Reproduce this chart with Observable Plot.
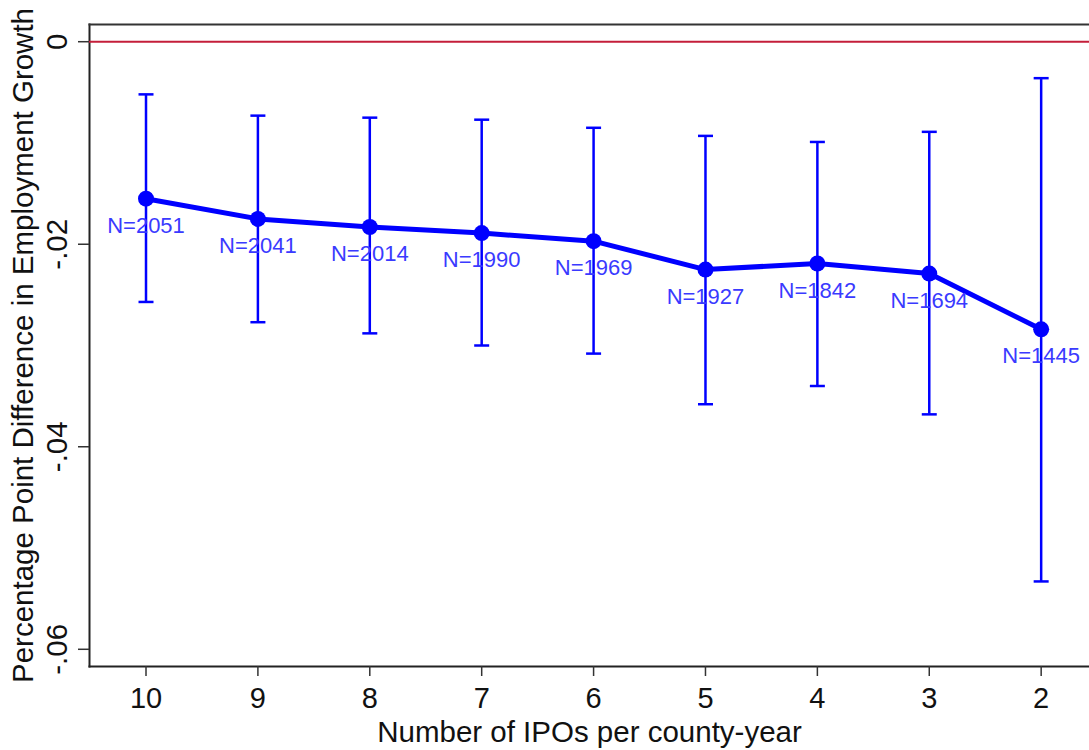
<!DOCTYPE html>
<html>
<head>
<meta charset="utf-8">
<script src="https://cdn.jsdelivr.net/npm/d3@7"></script>
<script src="https://cdn.jsdelivr.net/npm/@observablehq/plot@0.6"></script>
<style>
  html, body { margin: 0; padding: 0; background: #fff; }
  #chart svg { display: block; }
</style>
</head>
<body>
<div id="chart"></div>
<script>
// Data
const ipos   = [10, 9, 8, 7, 6, 5, 4, 3, 2];
const coef   = [-0.0155, -0.0175, -0.0183, -0.0189, -0.0197, -0.0225, -0.0219, -0.0229, -0.0284];
const ciHigh = [-0.0052, -0.0073, -0.0075, -0.0077, -0.0085, -0.0093, -0.0099, -0.0089, -0.0036];
const ciLow  = [-0.0257, -0.0277, -0.0288, -0.0300, -0.0308, -0.0358, -0.0340, -0.0368, -0.0533];
const nObs   = [2051, 2041, 2014, 1990, 1969, 1927, 1842, 1694, 1445];

const xTicks = [10, 9, 8, 7, 6, 5, 4, 3, 2];
const yTicks = [0, -0.02, -0.04, -0.06];
const yTickLabels = ["0", "-.02", "-.04", "-.06"];

const xTitle = "Number of IPOs per county-year";
const yTitle = "Percentage Point Difference in Employment Growth";

const rows = ipos.map((x, i) => ({x, y: coef[i], hi: ciHigh[i], lo: ciLow[i], n: nObs[i]}));
const yTickRows = yTicks.map((v, i) => ({v, label: yTickLabels[i]}));

const capSymbol = {
  draw(context, size) {
    const r = Math.sqrt(size / Math.PI);
    context.moveTo(-r, 0);
    context.lineTo(r, 0);
  }
};

const font = "'Liberation Sans', Arial, Helvetica, sans-serif";
const blue = "#0000ff";

const chart = Plot.plot({
  width: 1089,
  height: 750,
  marginLeft: 89,
  marginRight: 0,
  marginTop: 24,
  marginBottom: 84,
  style: {fontFamily: font, background: "#fff", color: "#222"},
  x: {domain: [10.505, 1.568], axis: null},
  y: {domain: [-0.0617, 0.0017], axis: null},
  marks: [
    // frame (left, top, bottom)
    Plot.frame({anchor: "left", stroke: "#222", strokeWidth: 2}),
    Plot.frame({anchor: "top", stroke: "#333", strokeWidth: 2}),
    Plot.frame({anchor: "bottom", stroke: "#222", strokeWidth: 2}),
    // y ticks
    Plot.axisY({ticks: yTicks, tickSize: 11, tickFormat: () => "", label: null, stroke: "#333", strokeWidth: 1.5}),
    Plot.text(yTickRows, {y: "v", text: "label", frameAnchor: "left", dx: -32, rotate: -90, textAnchor: "middle", lineAnchor: "middle", fontSize: 29.5, fill: "#111"}),
    // x ticks
    Plot.axisX({ticks: xTicks, tickSize: 10, tickPadding: 11, tickFormat: d => String(d), label: null, fontSize: 29, stroke: "#333", strokeWidth: 1.5, fill: "#111"}),
    // axis titles
    Plot.text([yTitle], {frameAnchor: "left", dx: -66, rotate: -90, textAnchor: "middle", lineAnchor: "middle", fontSize: 29.5, fill: "#111"}),
    Plot.text([xTitle], {frameAnchor: "bottom", dy: 66, textAnchor: "middle", lineAnchor: "middle", fontSize: 29.5, fill: "#111"}),
    // zero line
    Plot.ruleY([0], {stroke: "#c41e3a", strokeWidth: 2}),
    // error bars
    Plot.ruleX(rows, {x: "x", y1: "lo", y2: "hi", stroke: blue, strokeWidth: 2.5}),
    Plot.dot(rows, {x: "x", y: "hi", symbol: capSymbol, r: 7.5, stroke: blue, strokeWidth: 2.5, fill: "none"}),
    Plot.dot(rows, {x: "x", y: "lo", symbol: capSymbol, r: 7.5, stroke: blue, strokeWidth: 2.5, fill: "none"}),
    // line + points
    Plot.line(rows, {x: "x", y: "y", stroke: blue, strokeWidth: 5}),
    Plot.dot(rows, {x: "x", y: "y", r: 8, fill: blue, stroke: "none"}),
    // N labels
    Plot.text(rows, {x: "x", y: "y", text: d => "N=" + d.n, dy: 27, fontSize: 22, fill: "#3a3aff"})
  ]
});

document.getElementById("chart").appendChild(chart);
</script>
</body>
</html>
